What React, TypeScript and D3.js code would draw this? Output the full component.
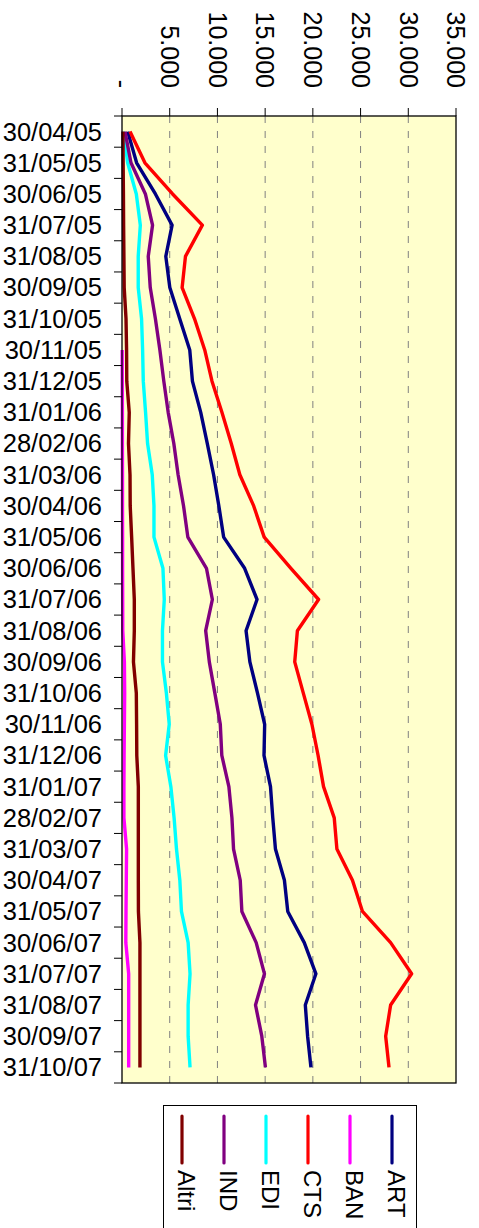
import React, { useEffect, useRef } from "react";
import * as d3 from "d3";

const dates = [
  "30/04/05", "31/05/05", "30/06/05", "31/07/05", "31/08/05", "30/09/05",
  "31/10/05", "30/11/05", "31/12/05", "31/01/06", "28/02/06", "31/03/06",
  "30/04/06", "31/05/06", "30/06/06", "31/07/06", "31/08/06", "30/09/06",
  "31/10/06", "30/11/06", "31/12/06", "31/01/07", "28/02/07", "31/03/07",
  "30/04/07", "31/05/07", "30/06/07", "31/07/07", "31/08/07", "30/09/07",
  "31/10/07",
];

const art = [600, 1530, 3500, 5250, 4590, 5010, 6050, 7100, 7380, 8250, 8940, 9600, 10150, 10650, 12850, 14150, 13000, 13400, 14200, 14950, 14880, 15560, 15800, 16080, 17020, 17370, 19100, 20320, 19210, 19450, 19800];
const ban = [null, null, null, null, null, null, null, 20, 30, 40, 40, 50, 50, 60, 60, 70, 80, 250, 280, 250, 220, 200, 200, 480, 450, 420, 400, 700, 700, 700, 700];
const cts = [838, 2400, 5300, 8420, 6650, 6300, 7600, 8670, 9430, 10470, 11450, 12350, 13800, 14900, 17700, 20600, 18380, 18100, 19000, 19900, 20550, 21120, 22240, 22520, 24150, 25200, 28150, 30350, 28150, 27630, 27980];
const edi = [180, 590, 1500, 1920, 1700, 1700, 2050, 2160, 2230, 2470, 2680, 3170, 3350, 3350, 4290, 4430, 4240, 4240, 4650, 4950, 4570, 5120, 5460, 5710, 6060, 6230, 6930, 7130, 6930, 6930, 7130];
const ind = [314, 940, 2450, 3200, 2750, 2960, 3500, 3970, 4380, 4840, 5430, 5880, 6450, 6900, 8850, 9470, 8770, 9150, 9730, 10300, 10460, 11200, 11520, 11690, 12390, 12560, 14060, 14930, 13990, 14650, 15030];
const altri = [100, 120, 150, 170, 200, 230, 420, 480, 500, 760, 680, 840, 860, 1010, 1150, 1290, 1290, 1200, 1500, 1530, 1550, 1710, 1710, 1710, 1710, 1720, 1880, 1880, 1880, 1880, 1880];

const seriesNames = ["ART", "BAN", "CTS", "EDI", "IND", "Altri"];
const seriesColors = ["#000080", "#FF00FF", "#FF0000", "#00FFFF", "#800080", "#800000"];
const seriesValues = [art, ban, cts, edi, ind, altri];

const valueTicks = [0, 5000, 10000, 15000, 20000, 25000, 30000, 35000];

const App = () => {
  const svgRef = useRef(null);

  useEffect(() => {
    const svg = d3.select(svgRef.current);
    svg.selectAll("*").remove();

    const left = 122;
    const right = 456;
    const top = 116;
    const bottom = 1083;
    const font = "Liberation Sans, Arial, sans-serif";

    const x = d3.scaleLinear().domain([0, 35000]).range([left, right]);
    const y = d3.scaleBand().domain(dates).range([top, bottom]);
    const yc = (d) => y(d) + y.bandwidth() / 2;

    // italian number format, zero shown as a dash
    const it = d3.formatLocale({ decimal: ",", thousands: ".", grouping: [3], currency: ["", ""] });
    const fmt = (v) => (v === 0 ? "-" : it.format(",")(v));

    // plot background
    svg
      .append("rect")
      .attr("x", left)
      .attr("y", top)
      .attr("width", right - left)
      .attr("height", bottom - top)
      .attr("fill", "#FFFFCC");

    // dashed grid
    valueTicks.slice(1, -1).forEach((t) => {
      svg
        .append("line")
        .attr("x1", x(t))
        .attr("x2", x(t))
        .attr("y1", top)
        .attr("y2", bottom)
        .attr("stroke", "#808080")
        .attr("stroke-width", 1)
        .attr("stroke-dasharray", "7,8");
    });

    // lines
    const line = d3
      .line()
      .defined((d) => d[1] != null)
      .x((d) => x(d[1]))
      .y((d) => yc(d[0]));

    seriesValues.forEach((vals, k) => {
      svg
        .append("path")
        .attr("d", line(dates.map((d, i) => [d, vals[i]])))
        .attr("fill", "none")
        .attr("stroke", seriesColors[k])
        .attr("stroke-width", 3.4)
        .attr("stroke-linejoin", "round");
    });

    // plot border
    svg
      .append("rect")
      .attr("x", left)
      .attr("y", top)
      .attr("width", right - left)
      .attr("height", bottom - top)
      .attr("fill", "none")
      .attr("stroke", "#000")
      .attr("stroke-width", 1.3);

    // value axis ticks + labels (top, rotated)
    valueTicks.forEach((t) => {
      svg
        .append("line")
        .attr("x1", x(t))
        .attr("x2", x(t))
        .attr("y1", top - 8)
        .attr("y2", top)
        .attr("stroke", "#000");
      svg
        .append("text")
        .attr("transform", `translate(${x(t)},88) rotate(90)`)
        .attr("text-anchor", "end")
        .attr("dy", "0.35em")
        .attr("font-family", font)
        .attr("font-size", 25)
        .text(fmt(t));
    });

    // category ticks
    d3.range(dates.length + 1).forEach((i) => {
      const yy = top + i * y.step();
      svg
        .append("line")
        .attr("x1", left - 8)
        .attr("x2", left)
        .attr("y1", yy)
        .attr("y2", yy)
        .attr("stroke", "#000");
    });

    // category labels
    dates.forEach((d) => {
      svg
        .append("text")
        .attr("x", 102)
        .attr("y", yc(d))
        .attr("dy", "0.35em")
        .attr("text-anchor", "end")
        .attr("font-family", font)
        .attr("font-size", 25.5)
        .text(d);
    });

    // legend
    svg
      .append("rect")
      .attr("x", 163.5)
      .attr("y", 1105.5)
      .attr("width", 253)
      .attr("height", 140)
      .attr("fill", "#fff")
      .attr("stroke", "#000")
      .attr("stroke-width", 1);

    const legendOrder = ["Altri", "IND", "EDI", "CTS", "BAN", "ART"];
    legendOrder.forEach((name, i) => {
      const lx = 182 + i * 42;
      const color = seriesColors[seriesNames.indexOf(name)];
      svg
        .append("line")
        .attr("x1", lx)
        .attr("x2", lx)
        .attr("y1", 1116)
        .attr("y2", 1163)
        .attr("stroke", color)
        .attr("stroke-width", 3.2)
        .attr("stroke-linecap", "round");
      svg
        .append("text")
        .attr("transform", `translate(${lx},1170) rotate(90)`)
        .attr("y", 4)
        .attr("font-family", font)
        .attr("font-size", 24)
        .text(name);
    });
  }, []);

  return (
    <svg
      ref={svgRef}
      width={479}
      height={1228}
      xmlns="http://www.w3.org/2000/svg"
      style={{ position: "absolute", left: 0, top: 0, background: "#fff" }}
    ></svg>
  );
};

export default App;
